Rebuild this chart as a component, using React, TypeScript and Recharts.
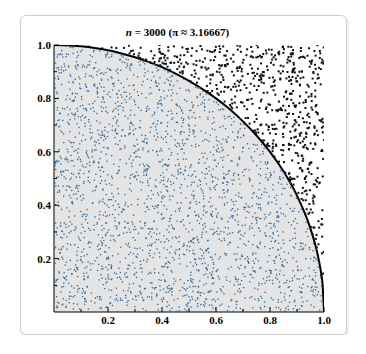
import { ComposedChart, Area, Line, Scatter, XAxis, YAxis } from "recharts";

const arcX = [0, 0.05, 0.1, 0.15, 0.2, 0.25, 0.3, 0.35, 0.4, 0.45, 0.5, 0.55, 0.6, 0.65, 0.7, 0.75, 0.8, 0.85, 0.9, 0.94, 0.97, 0.98, 0.99, 0.995, 1.0];
const arcY = [1, 0.999, 0.995, 0.989, 0.98, 0.968, 0.954, 0.937, 0.917, 0.893, 0.866, 0.835, 0.8, 0.76, 0.714, 0.661, 0.6, 0.527, 0.436, 0.341, 0.243, 0.199, 0.141, 0.1, 0];

const ticks = [0.05, 0.1, 0.15, 0.2, 0.25, 0.3, 0.35, 0.4, 0.45, 0.5, 0.55, 0.6, 0.65, 0.7, 0.75, 0.8, 0.85, 0.9, 0.95, 1.0];
const tickLabels = ["0.2", "0.4", "0.6", "0.8", "1.0"];

// title says n = 3000, pi ~ 3.16667 -> 2375 inside, 625 outside.
// the individual sample points can't be read off the picture, so a fixed-seed
// sequence stands in for them (same counts as the title).
const nInside = 2375;
const nOutside = 625;
const seed = 20240611;

function makeSamples() {
  let s = seed >>> 0;
  const next = () => {
    s = (s + 0x6d2b79f5) >>> 0;
    let t = s;
    t = Math.imul(t ^ (t >>> 15), t | 1);
    t ^= t + Math.imul(t ^ (t >>> 7), t | 61);
    return ((t ^ (t >>> 14)) >>> 0) / 4294967296;
  };
  const inside: { x: number; y: number }[] = [];
  const outside: { x: number; y: number }[] = [];
  while (inside.length < nInside || outside.length < nOutside) {
    const x = next();
    const y = next();
    if (x * x + y * y < 1) {
      if (inside.length < nInside) inside.push({ x, y });
    } else if (outside.length < nOutside) outside.push({ x, y });
  }
  return { inside, outside };
}

const { inside, outside } = makeSamples();
const arcData = arcX.map((x, i) => ({ x, y: arcY[i] }));

const font = "'Liberation Serif', 'Times New Roman', serif";

const isMajor = (v: number) => tickLabels.includes(v.toFixed(1)) && Math.abs(v * 5 - Math.round(v * 5)) < 1e-6;

const XTick = (props: any) => {
  const { x, y, payload } = props;
  const major = isMajor(payload.value);
  return (
    <g>
      <line x1={x} x2={x} y1={y} y2={y - (major ? 5 : 3)} stroke="#000" />
      {major && (
        <text x={x} y={y + 12} textAnchor="middle" fontFamily={font} fontWeight="bold" fontSize={11} fill="#000">
          {payload.value.toFixed(1)}
        </text>
      )}
    </g>
  );
};

const YTick = (props: any) => {
  const { x, y, payload } = props;
  const major = isMajor(payload.value);
  return (
    <g>
      <line x1={x} x2={x + (major ? 5 : 3)} y1={y} y2={y} stroke="#000" />
      {major && (
        <text x={x - 3} y={y + 4} textAnchor="end" fontFamily={font} fontWeight="bold" fontSize={11} fill="#000">
          {payload.value.toFixed(1)}
        </text>
      )}
    </g>
  );
};

const Dot = (color: string, size: number) => (p: any) => (
  <rect x={p.cx - size / 2} y={p.cy - size / 2} width={size} height={size} fill={color} />
);

export default function App() {
  return (
    <div
      style={{
        position: "relative",
        marginLeft: 12,
        marginTop: 7,
        width: 325,
        height: 318,
        border: "1px solid #cfcfcf",
        borderRadius: 6,
        boxShadow: "1px 2px 3px rgba(0,0,0,0.12)",
        background: "#fff",
      }}
    >
      <div
        style={{
          position: "absolute",
          top: 10,
          left: 0,
          width: 325,
          textAlign: "center",
          fontFamily: font,
          fontWeight: "bold",
          fontSize: 11,
          paddingRight: 12,
          boxSizing: "border-box",
        }}
      >
        <i>n</i> = 3000 (π ≈ 3.16667)
      </div>
      <ComposedChart width={325} height={318} data={arcData} margin={{ top: 29, right: 22, bottom: 2, left: 3 }}>
        <XAxis
          type="number"
          dataKey="x"
          domain={[0, 1]}
          ticks={ticks}
          tick={<XTick />}
          tickLine={false}
          tickSize={0}
          tickMargin={0}
          height={20}
          axisLine={{ stroke: "#000" }}
          allowDataOverflow
        />
        <YAxis
          type="number"
          dataKey="y"
          domain={[0, 1]}
          ticks={ticks}
          tick={<YTick />}
          tickLine={false}
          tickSize={0}
          tickMargin={0}
          width={30}
          axisLine={{ stroke: "#000" }}
          allowDataOverflow
        />
        <Area type="monotone" dataKey="y" stroke="none" fill="#e4e4e4" fillOpacity={1} isAnimationActive={false} />
        <Scatter data={inside} dataKey="y" shape={Dot("#2c6797", 1.3)} isAnimationActive={false} />
        <Scatter data={outside} dataKey="y" shape={Dot("#111", 2)} isAnimationActive={false} />
        <Line type="monotone" dataKey="y" stroke="#000" strokeWidth={2} dot={false} isAnimationActive={false} />
      </ComposedChart>
    </div>
  );
}
